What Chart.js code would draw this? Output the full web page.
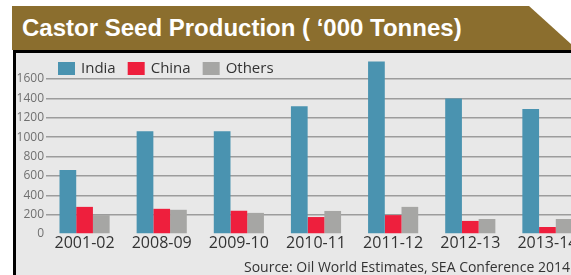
<!DOCTYPE html>
<html>
<head>
<meta charset="utf-8">
<script src="https://cdn.jsdelivr.net/npm/chart.js@4/dist/chart.umd.min.js"></script>
<style>
  html, body { margin: 0; padding: 0; width: 571px; height: 275px; overflow: hidden; background: #ffffff; position: relative; }
  #band { position: absolute; left: 12px; top: 6px; width: 559px; height: 44px; background: #8b6e2e;
          clip-path: polygon(0 0, 517px 0, 559px 38px, 559px 44px, 0 44px); }
  #band span { position: absolute; left: 10px; top: 8px; font-family: "Liberation Sans", Arial, sans-serif;
               font-weight: bold; font-size: 24px; color: #ffffff; white-space: nowrap; }
  #panel { position: absolute; left: 13px; top: 50px; width: 600px; height: 260px; background: #e8e8e8;
           border-left: 3px solid #000; border-top: 3px solid #000; }
  #wrap { position: absolute; left: 16px; top: 36px; width: 570px; height: 239px; }
  #source { position: absolute; left: 244px; top: 257px; font-family: "Open Sans", sans-serif; font-size: 14px;
            color: #333; white-space: nowrap; }
</style>
</head>
<body>
<div id="band"><span>Castor Seed Production ( ‘000 Tonnes)</span></div>
<div id="panel"></div>
<div id="wrap"><canvas id="c" width="570" height="239"></canvas></div>
<div id="source">Source: Oil World Estimates, SEA Conference 2014</div>
<script>
const categories = ["2001-02", "2008-09", "2009-10", "2010-11", "2011-12", "2012-13", "2013-14"];
const india  = [660, 1060, 1060, 1320, 1780, 1400, 1290];
const china  = [280, 260, 240, 175, 195, 135, 72];
const others = [195, 250, 218, 238, 280, 155, 155];
const seriesNames = ["India", "China", "Others"];
const seriesColors = ["#4a93b0", "#ee1f3d", "#a6a6a4"];
const yTickMax = 1600;

// Legend drawn inside the plot area, in a single row (library legend would stack it vertically)
const inlineLegend = {
  id: "inlineLegend",
  afterDraw(chart) {
    const ctx = chart.ctx;
    const area = chart.chartArea;
    const boxW = 17, boxH = 13, gap = 6, spacing = 12;
    let x = area.left + 12;
    const yTop = area.top + 13;
    ctx.save();
    ctx.font = "15px 'Open Sans', sans-serif";
    ctx.textBaseline = "middle";
    ctx.textAlign = "left";
    chart.data.datasets.forEach((ds) => {
      ctx.fillStyle = ds.backgroundColor;
      ctx.fillRect(x, yTop, boxW, boxH);
      x += boxW + gap;
      ctx.fillStyle = "#333333";
      ctx.fillText(ds.label, x, yTop + boxH / 2);
      x += ctx.measureText(ds.label).width + spacing;
    });
    ctx.restore();
  }
};

new Chart(document.getElementById("c"), {
  type: "bar",
  data: {
    labels: categories,
    datasets: [india, china, others].map((d, i) => ({
      label: seriesNames[i],
      data: d,
      backgroundColor: seriesColors[i],
      borderWidth: 0,
      categoryPercentage: 0.65,
      barPercentage: 1.0
    }))
  },
  plugins: [inlineLegend],
  options: {
    responsive: false,
    animation: false,
    devicePixelRatio: 1,
    layout: { padding: { top: 13, right: 0, bottom: 0, left: 0 } },
    plugins: {
      tooltip: { enabled: false },
      legend: { display: false }
    },
    scales: {
      x: {
        grid: { display: false, drawTicks: false },
        border: { display: false },
        ticks: { color: "#333333", padding: 0, maxRotation: 0, autoSkip: false,
                 font: { family: "'Open Sans', sans-serif", size: 16 } },
        afterFit: (s) => { s.height = 41; }
      },
      y: {
        min: 0,
        max: 1910,
        ticks: { stepSize: 200, padding: 2, color: "#707070",
                 callback: (v) => String(v),
                 font: { family: "'Open Sans', sans-serif", size: 12 } },
        afterBuildTicks: (s) => { s.ticks = s.ticks.filter(t => t.value <= yTickMax); },
        grid: { drawTicks: false, lineWidth: 1.5,
                color: (ctx) => (ctx.tick && ctx.tick.value === 0) ? "rgba(0,0,0,0)" : "#9c9c9c" },
        border: { display: false },
        afterFit: (s) => { s.width = 30; }
      }
    }
  }
});
</script>
</body>
</html>
